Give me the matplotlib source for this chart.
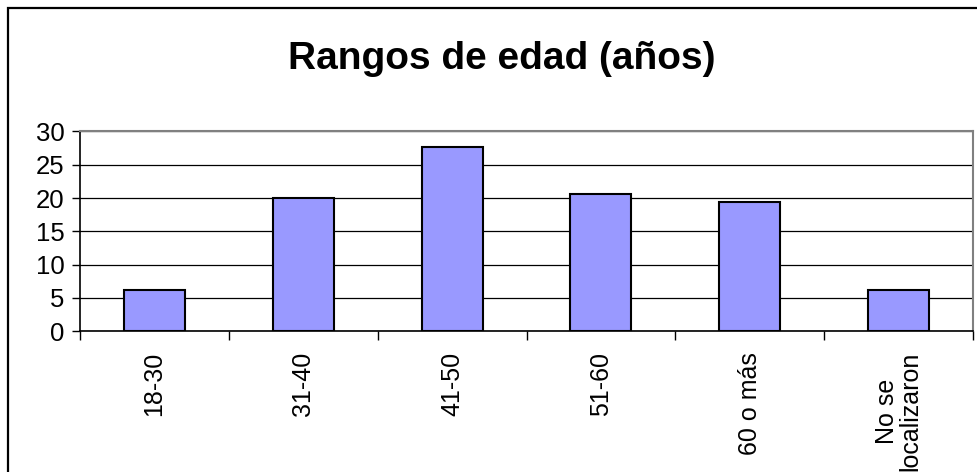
"""Rangos de edad (años) — Excel-style bar chart."""

import matplotlib
matplotlib.use("Agg")
import matplotlib.pyplot as plt
from matplotlib.patches import Rectangle

# ---------------------------------------------------------------------------
# Data
# ---------------------------------------------------------------------------

CATEGORIES = ["18-30", "31-40", "41-50", "51-60", "60 o más", "No se\nlocalizaron"]
VALUES = [6.2, 20.0, 27.6, 20.6, 19.4, 6.2]
Y_TICKS = [0, 5, 10, 15, 20, 25, 30]

TITLE = "Rangos de edad (años)"
BAR_COLOR = "#9999FF"

# ---------------------------------------------------------------------------
# Plot
# ---------------------------------------------------------------------------

plt.rcParams["font.family"] = ["Liberation Sans", "DejaVu Sans"]

fig = plt.figure(figsize=(9.77, 4.72), dpi=100)
ax = fig.add_axes([0.0819, 0.2987, 0.9140, 0.4227])

x = list(range(len(CATEGORIES)))
ax.bar(x, VALUES, width=0.41, color=BAR_COLOR, edgecolor="black",
       linewidth=1.5, zorder=3)

ax.set_xlim(-0.5, len(CATEGORIES) - 0.5)
ax.set_ylim(0, 30)
ax.set_yticks(Y_TICKS)
ax.tick_params(axis="y", labelsize=18.5, length=6, width=1, pad=5, direction="out")

# category labels centred, tick marks between categories
ax.set_xticks(x)
ax.set_xticklabels(CATEGORIES, rotation=90, fontsize=18, ha="center",
                   va="top", multialignment="center", linespacing=1.0)
ax.tick_params(axis="x", which="major", length=0, pad=15)
ax.set_xticks([i - 0.5 for i in range(len(CATEGORIES) + 1)], minor=True)
ax.tick_params(axis="x", which="minor", length=6.5, width=1, direction="out")

ax.grid(axis="y", color="black", linewidth=0.9, zorder=0)

ax.spines["left"].set_color("black")
ax.spines["bottom"].set_color("black")
ax.spines["left"].set_linewidth(1.2)
ax.spines["bottom"].set_linewidth(1.2)
for side in ("top", "right"):
    ax.spines[side].set_color("#808080")
    ax.spines[side].set_linewidth(1.5)

fig.text(0.514, 0.874, TITLE, ha="center", va="center",
         fontsize=28, fontweight="bold")

# outer chart-area border (runs off the right/bottom edge)
fig.patches.append(Rectangle((8 / 977, -0.2), 1.2, 1.2 - 8 / 472,
                             transform=fig.transFigure, fill=False,
                             edgecolor="black", linewidth=1.6))

fig.savefig("out.png", dpi=100)
